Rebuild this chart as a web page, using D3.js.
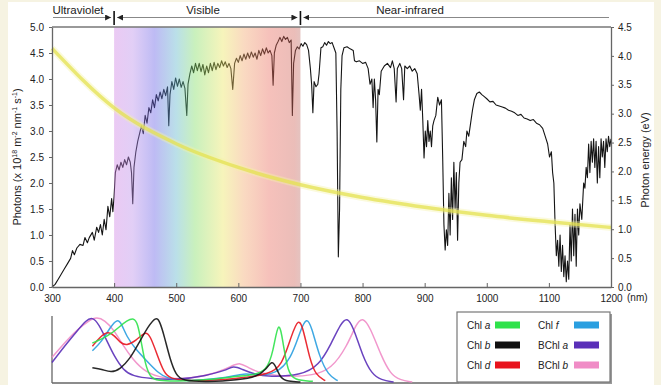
<!DOCTYPE html>
<html>
<head>
<meta charset="utf-8">
<script src="https://cdn.jsdelivr.net/npm/d3@7"></script>
<style>
  html, body { margin: 0; padding: 0; background: #f6f3e2; }
  svg { display: block; font-family: "Liberation Sans", Arial, sans-serif; }
</style>
</head>
<body>
<svg id="chart" width="661" height="385"></svg>
<script>
// solar photon flux at ground, [wavelength nm, photons x10^18 m^-2 nm^-1 s^-1]
const solarSpectrum = [
  [300,0.0],[305,0.05],[310,0.15],[315,0.25],[320,0.35],[325,0.45],[330,0.55],[333,0.7],[336,0.62],[340,0.75],
  [345,0.82],[350,0.8],[353,0.95],[357,0.85],[360,0.95],[365,1.05],[368,0.9],[372,1.15],[375,1.05],[378,1.2],
  [381,1.0],[384,1.3],[387,1.1],[390,1.55],[393,1.35],[396,1.7],[398,1.45],[400,1.75],[402,2.2],[405,2.35],
  [408,2.25],[411,2.4],[414,2.3],[417,2.45],[420,2.35],[423,2.5],[426,2.4],[428,2.2],[430,1.6],[432,2.3],
  [435,2.6],[438,2.8],[441,2.95],[444,3.1],[447,2.95],[450,3.3],[453,3.15],[456,3.45],[459,3.35],[462,3.6],
  [465,3.45],[468,3.7],[471,3.58],[474,3.75],[477,3.62],[480,3.8],[483,3.68],[486,3.85],[488,3.1],[490,3.7],
  [493,3.95],[496,3.8],[499,4.02],[502,3.86],[505,4.0],[508,3.84],[511,3.95],[514,3.82],[517,3.3],[519,3.9],
  [522,4.1],[525,4.25],[528,4.12],[531,4.3],[534,4.16],[537,4.3],[540,4.14],[543,4.28],[546,4.08],[549,4.25],
  [552,4.12],[555,4.3],[558,4.16],[561,4.32],[564,4.18],[567,4.3],[570,4.22],[573,4.35],[576,4.25],[579,4.33],
  [582,4.22],[585,4.3],[588,4.2],[591,3.8],[594,4.3],[597,4.4],[600,4.32],[603,4.45],[606,4.35],[609,4.48],
  [612,4.38],[615,4.5],[618,4.4],[621,4.52],[624,4.42],[627,4.5],[630,4.38],[633,4.55],[636,4.45],[639,4.58],
  [642,4.48],[645,4.6],[648,4.5],[651,4.55],[654,4.45],[656,3.88],[658,4.5],[661,4.65],[664,4.72],[667,4.8],
  [670,4.72],[673,4.82],[676,4.76],[679,4.8],[682,4.7],[685,4.75],[687,3.3],[689,4.3],[692,4.55],[695,4.62],
  [698,4.58],[701,4.68],[704,4.63],[707,4.7],[710,4.66],[713,4.55],[716,4.2],[718,3.9],[720,3.35],[722,3.95],
  [725,3.85],[728,3.9],[730,4.1],[733,4.6],[736,4.62],[739,4.7],[742,4.65],[745,4.72],[748,4.68],[751,4.7],
  [754,4.6],[757,4.5],[759,3.0],[761,0.58],[763,1.5],[765,3.8],[767,4.45],[770,4.6],[775,4.62],[780,4.58],
  [785,4.55],[787,4.35],[790,4.33],[795,4.35],[800,4.3],[805,4.32],[809,4.2],[812,3.9],[815,4.0],[817,3.45],
  [819,4.0],[821,3.6],[823,2.79],[825,3.8],[827,3.7],[830,4.15],[835,4.25],[840,4.3],[845,4.22],[848,4.35],
  [851,4.2],[854,3.56],[856,4.2],[860,4.3],[863,4.2],[866,3.6],[868,4.25],[872,4.2],[876,4.25],[880,4.15],
  [884,4.2],[888,4.1],[891,3.7],[893,3.4],[895,3.8],[897,3.2],[899,2.48],[901,3.0],[903,2.7],[905,3.2],
  [907,2.8],[909,3.0],[911,2.7],[913,3.1],[915,3.2],[918,3.3],[921,3.65],[924,3.5],[927,3.6],[929,2.5],
  [931,1.2],[933,0.71],[935,1.1],[937,0.8],[939,1.8],[941,1.0],[943,2.1],[945,1.3],[947,2.4],[949,1.5],
  [951,2.2],[953,0.9],[955,2.0],[957,2.4],[960,2.45],[963,2.8],[966,2.7],[968,3.0],[971,2.9],[974,3.15],
  [977,3.4],[980,3.6],[984,3.72],[988,3.75],[992,3.7],[996,3.66],[1000,3.62],[1005,3.56],[1010,3.57],[1015,3.5],
  [1020,3.48],[1025,3.46],[1030,3.44],[1035,3.4],[1040,3.38],[1045,3.35],[1050,3.3],[1055,3.32],[1060,3.25],[1065,3.23],
  [1070,3.2],[1075,3.22],[1080,3.15],[1085,3.12],[1090,3.05],[1094,2.9],[1098,2.75],[1101,2.5],[1104,2.6],[1106,2.2],
  [1108,2.0],[1110,1.2],[1112,0.6],[1114,0.9],[1116,0.4],[1118,1.0],[1120,0.3],[1122,0.8],[1124,0.2],[1126,0.6],
  [1128,0.1],[1130,0.5],[1132,0.15],[1134,1.2],[1136,0.5],[1138,1.5],[1140,0.6],[1142,1.4],[1144,0.4],[1146,1.5],
  [1148,1.0],[1150,1.6],[1153,1.3],[1156,2.0],[1158,1.9],[1160,2.3],[1162,2.1],[1164,2.75],[1166,2.2],[1168,2.8],
  [1170,2.4],[1172,2.85],[1174,2.3],[1176,2.8],[1178,2.0],[1180,2.7],[1182,2.1],[1184,2.85],[1186,2.5],[1188,2.8],
  [1190,2.3],[1192,2.85],[1194,2.6],[1196,2.9],[1198,2.7],[1200,2.85]
];

// photon energy
const energyNm = [300, 400, 500, 600, 700, 800, 900, 1000, 1100, 1200];
const energyEv = [4.13, 3.1, 2.48, 2.07, 1.77, 1.55, 1.38, 1.24, 1.13, 1.03];

// visible band colour stops
const bandNm = [400, 430, 465, 500, 530, 575, 610, 650, 690, 700];
const bandColors = ['#cf81e3', '#b98cea', '#645de5', '#5bb4ca', '#7fdc62', '#ebe55d', '#f2a56b', '#e96b5d', '#cf6257', '#c07068'];

const regions = [
  { name: 'Ultraviolet', from: 300, to: 400, labelX: 78 },
  { name: 'Visible', from: 400, to: 700, labelX: 203 },
  { name: 'Near-infrared', from: 700, to: 1200, labelX: 410 }
];

const xTicks = [300, 400, 500, 600, 700, 800, 900, 1000, 1100, 1200];
const leftTicks = [0, 0.5, 1, 1.5, 2, 2.5, 3, 3.5, 4, 4.5, 5];
const rightTicks = [0, 0.5, 1, 1.5, 2, 2.5, 3, 3.5, 4, 4.5];

// relative absorption of pigments, [nm, 0..1]
const chlA = [[365,0.6],[380,0.66],[395,0.74],[410,0.86],[420,0.94],[432,0.99],[438,0.9],[444,0.6],[450,0.28],[458,0.07],[470,0.02],[500,0.01],[550,0.03],[600,0.09],[625,0.11],[645,0.17],[656,0.45],[665,1.0],[672,0.6],[680,0.15],[690,0.03],[720,0.01]];
const chlB = [[365,0.22],[380,0.2],[395,0.14],[410,0.2],[425,0.35],[440,0.6],[455,0.86],[467,1.0],[473,0.95],[481,0.7],[490,0.35],[500,0.1],[510,0.02],[550,0.0],[600,0.03],[630,0.08],[645,0.2],[654,0.33],[660,0.25],[668,0.05],[680,0.01],[700,0.0]];
const chlD = [[365,0.55],[378,0.7],[390,0.78],[400,0.72],[410,0.6],[420,0.56],[435,0.63],[450,0.78],[458,0.72],[470,0.4],[480,0.15],[490,0.05],[520,0.01],[600,0.05],[650,0.12],[670,0.25],[685,0.7],[697,1.0],[705,0.8],[715,0.35],[725,0.1],[740,0.02]];
const chlF = [[365,0.48],[380,0.62],[395,0.86],[405,0.97],[412,0.9],[420,0.7],[435,0.5],[455,0.3],[470,0.15],[485,0.05],[520,0.01],[580,0.06],[610,0.14],[630,0.1],[660,0.12],[685,0.35],[700,0.8],[710,1.0],[718,0.85],[730,0.4],[745,0.1],[760,0.02]];
const bchlA = [[300,0.3],[320,0.55],[340,0.78],[355,0.95],[365,1.0],[375,0.9],[390,0.6],[400,0.4],[415,0.18],[430,0.09],[460,0.05],[500,0.03],[550,0.1],[580,0.18],[592,0.25],[605,0.2],[625,0.12],[650,0.08],[700,0.1],[730,0.25],[750,0.6],[765,0.9],[775,1.0],[785,0.85],[800,0.4],[815,0.12],[830,0.03],[850,0.0]];
const bchlB = [[300,0.38],[320,0.6],[340,0.8],[360,0.95],[372,1.0],[385,0.95],[400,0.8],[415,0.55],[430,0.35],[450,0.15],[480,0.05],[520,0.05],[560,0.12],[590,0.25],[603,0.3],[615,0.22],[640,0.12],[680,0.08],[720,0.1],[750,0.2],[775,0.55],[790,0.9],[800,1.0],[812,0.85],[830,0.4],[845,0.12],[860,0.03],[880,0.0]];

const pigmentNames = ['Chl', 'Chl', 'Chl', 'Chl', 'BChl', 'BChl'];
const pigmentLetters = ['a', 'b', 'd', 'f', 'a', 'b'];
const pigmentColors = ['#2fe24b', '#111111', '#e8141e', '#2a9fe0', '#5a2fb8', '#f08cc6'];
const pigmentData = [chlA, chlB, chlD, chlF, bchlA, bchlB];

const svg = d3.select('#chart');

svg.append('rect').attr('x', 8).attr('y', 2).attr('width', 646).attr('height', 383).attr('fill', '#fff');

const x = d3.scaleLinear().domain([300, 1200]).range([52, 611]);
const yL = d3.scaleLinear().domain([0, 5]).range([287, 27]);
const yR = d3.scaleLinear().domain([0, 4.5]).range([287, 27]);
const yA = d3.scaleLinear().domain([0, 1]).range([382, 317]);

// header
const defs = svg.append('defs');
defs.append('marker').attr('id', 'arr').attr('viewBox', '0 0 10 10')
  .attr('refX', 10).attr('refY', 5).attr('markerWidth', 6).attr('markerHeight', 6)
  .attr('orient', 'auto-start-reverse')
  .append('path').attr('d', 'M0,0L10,5L0,10z').attr('fill', '#222');

const header = svg.append('g');
regions.forEach((r, i) => {
  const x0 = i === 0 ? x(r.from) + 1 : x(r.from) + 3;
  const x1 = i === regions.length - 1 ? x(r.to) - 2 : x(r.to) - 3;
  const ln = header.append('line').attr('x1', x0).attr('x2', x1).attr('y1', 17.5).attr('y2', 17.5)
    .attr('stroke', '#888').attr('stroke-width', 1);
  if (i > 0) ln.attr('marker-start', 'url(#arr)');
  if (i < regions.length - 1) ln.attr('marker-end', 'url(#arr)');
  header.append('text').attr('x', r.labelX).attr('y', 14).attr('text-anchor', 'middle')
    .attr('font-size', 11.5).attr('fill', '#222').text(r.name);
});
[400, 700].forEach(nm => {
  header.append('line').attr('x1', x(nm)).attr('x2', x(nm)).attr('y1', 11).attr('y2', 25)
    .attr('stroke', '#111').attr('stroke-width', 1.6);
});

// spectrum line
const line = d3.line().x(d => x(d[0])).y(d => yL(d[1]));
svg.append('path').datum(solarSpectrum).attr('d', line)
  .attr('fill', 'none').attr('stroke', '#151515').attr('stroke-width', 1.1).attr('stroke-linejoin', 'round');

// visible band on top, translucent
const grad = defs.append('linearGradient').attr('id', 'vis')
  .attr('gradientUnits', 'userSpaceOnUse')
  .attr('x1', x(400)).attr('x2', x(700)).attr('y1', 0).attr('y2', 0);
bandNm.forEach((nm, i) => {
  grad.append('stop').attr('offset', (nm - 400) / 300).attr('stop-color', bandColors[i]);
});
svg.append('rect').attr('x', x(400)).attr('y', yL(5)).attr('width', x(700) - x(400)).attr('height', yL(0) - yL(5))
  .attr('fill', 'url(#vis)').attr('opacity', 0.42);

// photon energy curve
const eData = energyNm.map((nm, i) => [nm, energyEv[i]]);
const eLine = d3.line().x(d => x(d[0])).y(d => yR(d[1])).curve(d3.curveMonotoneX);
svg.append('path').datum(eData).attr('d', eLine).attr('fill', 'none')
  .attr('stroke', '#f4f2a8').attr('stroke-width', 7).attr('opacity', 0.4);
svg.append('path').datum(eData).attr('d', eLine).attr('fill', 'none')
  .attr('stroke', '#e4e150').attr('stroke-width', 3.5).attr('opacity', 0.75);

// axes
const axisColor = '#666';
function styleAxis(g) {
  g.attr('font-family', null);
  g.selectAll('.domain').attr('stroke', axisColor).attr('stroke-width', 1.3);
  g.selectAll('.tick line').attr('stroke', axisColor);
  g.selectAll('.tick text').attr('fill', '#222').attr('font-size', 10);
}
svg.append('g').attr('transform', 'translate(52,0)')
  .call(d3.axisLeft(yL).tickValues(leftTicks).tickFormat(d3.format('.1f')).tickSize(3).tickSizeOuter(0).tickPadding(5))
  .call(styleAxis);
svg.append('g').attr('transform', 'translate(611,0)')
  .call(d3.axisRight(yR).tickValues(rightTicks).tickFormat(d3.format('.1f')).tickSize(3).tickSizeOuter(0).tickPadding(4))
  .call(styleAxis);
svg.append('g').attr('transform', 'translate(0,287)')
  .call(d3.axisBottom(x).tickValues(xTicks).tickFormat(d3.format('d')).tickSize(-4).tickSizeOuter(0).tickPadding(8))
  .call(styleAxis);
svg.append('line').attr('x1', 52).attr('x2', 611).attr('y1', 27).attr('y2', 27)
  .attr('stroke', '#777').attr('stroke-width', 1.6);

svg.append('text').attr('x', 627).attr('y', 301).attr('font-size', 10).attr('fill', '#222').text('(nm)');

const yLab = svg.append('text').attr('transform', 'translate(21,157) rotate(-90)')
  .attr('text-anchor', 'middle').attr('font-size', 11).attr('fill', '#222');
yLab.append('tspan').text('Photons (x 10');
yLab.append('tspan').attr('font-size', 7).attr('dy', -4).text('18');
yLab.append('tspan').attr('dy', 4).text(' m');
yLab.append('tspan').attr('font-size', 7).attr('dy', -4).text('-2');
yLab.append('tspan').attr('dy', 4).text(' nm');
yLab.append('tspan').attr('font-size', 7).attr('dy', -4).text('-1');
yLab.append('tspan').attr('dy', 4).text(' s');
yLab.append('tspan').attr('font-size', 7).attr('dy', -4).text('-1');
yLab.append('tspan').attr('dy', 4).text(')');

svg.append('text').attr('transform', 'translate(649,160) rotate(-90)')
  .attr('text-anchor', 'middle').attr('font-size', 11).attr('fill', '#222').text('Photon energy (eV)');

// pigment absorption panel
const panel = svg.append('g');
panel.append('line').attr('x1', 52).attr('x2', 52).attr('y1', 316).attr('y2', 383).attr('stroke', axisColor).attr('stroke-width', 1.3);
panel.append('line').attr('x1', 611).attr('x2', 611).attr('y1', 316).attr('y2', 383).attr('stroke', axisColor).attr('stroke-width', 1.3);
panel.append('line').attr('x1', 52).attr('x2', 611).attr('y1', 383).attr('y2', 383).attr('stroke', axisColor).attr('stroke-width', 1.3);

const aLine = d3.line().x(d => x(d[0])).y(d => yA(d[1])).curve(d3.curveBasis);
[5, 4, 3, 2, 0, 1].forEach(i => {
  panel.append('path').datum(pigmentData[i]).attr('d', aLine).attr('fill', 'none')
    .attr('stroke', pigmentColors[i]).attr('stroke-width', 1.5).attr('opacity', 0.9);
});

// legend
const leg = panel.append('g');
leg.append('rect').attr('x', 459).attr('y', 314).attr('width', 153).attr('height', 70).attr('fill', '#999');
leg.append('rect').attr('x', 457).attr('y', 312).attr('width', 153).attr('height', 70)
  .attr('fill', '#fff').attr('stroke', '#777').attr('stroke-width', 1.2);
[0, 1, 2, 3, 4, 5].forEach((p, k) => {
  const col = Math.floor(k / 3), row = k % 3;
  const ly = 325 + row * 20;
  const lx = col === 0 ? 467 : 538;
  const sx = col === 0 ? 495 : 574;
  const t = leg.append('text').attr('x', lx).attr('y', ly + 3.5).attr('font-size', 10).attr('fill', '#222');
  t.append('tspan').text(pigmentNames[p] + ' ');
  t.append('tspan').attr('font-style', 'italic').text(pigmentLetters[p]);
  leg.append('rect').attr('x', sx).attr('y', ly - 3.5).attr('width', 25).attr('height', 7).attr('fill', pigmentColors[p]);
});
</script>
</body>
</html>
